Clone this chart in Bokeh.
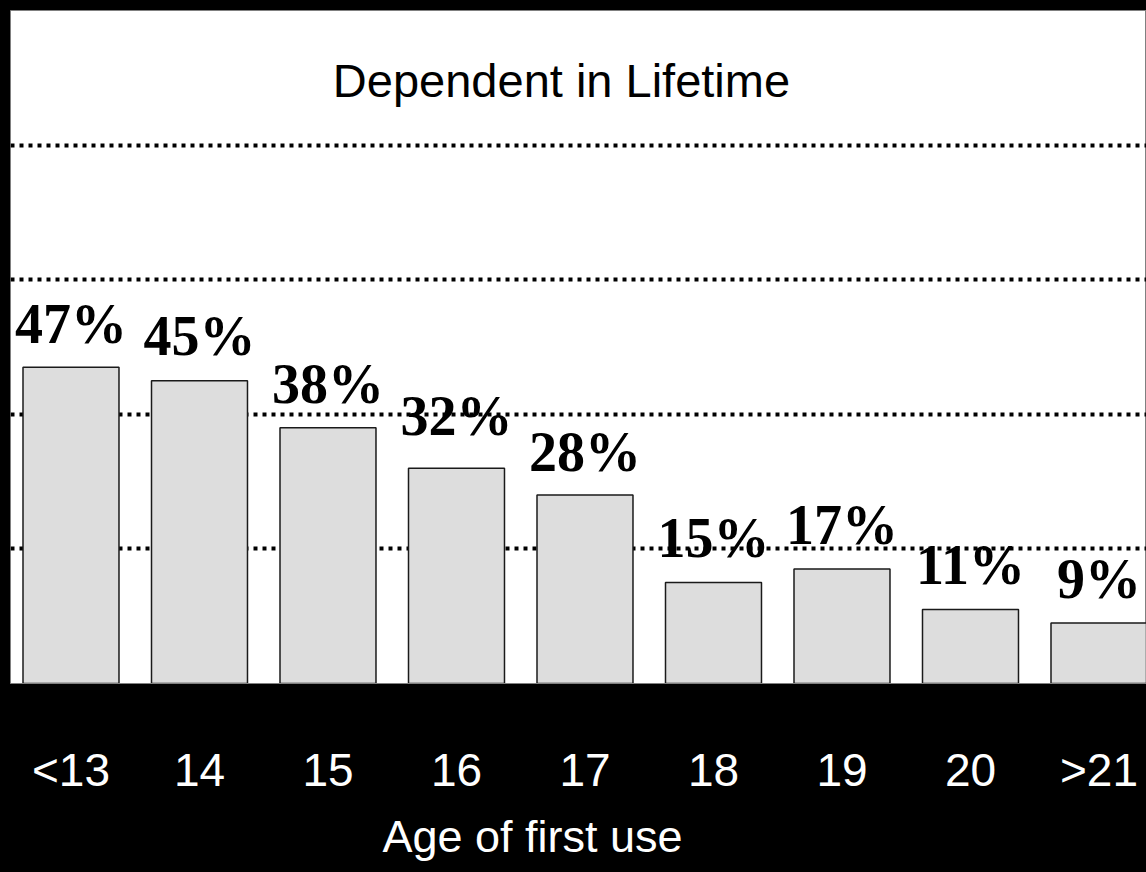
from bokeh.plotting import figure
from bokeh.models import FixedTicker, Range1d, Label, Title, ColumnDataSource, GlobalInlineStyleSheet
from bokeh.core.properties import value
from bokeh.embed import file_html
from bokeh.resources import INLINE

# ---- data ----
categories = ["<13", "14", "15", "16", "17", "18", "19", "20", ">21"]
percent = [47, 45, 38, 32, 28, 15, 17, 11, 9]
bar_labels = [f"{v}%" for v in percent]
label_gap = [24, 26, 25, 33, 24, 26, 25, 25, 25]

BASELINE_FIX = 19  # renderer places alphabetic text lower than requested

xs = list(range(len(categories)))
src = ColumnDataSource(dict(x=xs, top=percent, label=bar_labels,
                            gap=[-(g + BASELINE_FIX) for g in label_gap]))

p = figure(width=1146, height=872,
           x_range=Range1d(-0.4708, 8.3697), y_range=Range1d(0, 100),
           output_backend="svg", toolbar_location=None, y_axis_location=None,
           min_border_left=10, min_border_right=0, min_border_top=10,
           min_border_bottom=189)
p.stylesheets = [GlobalInlineStyleSheet(css="body{background:#000;}")]
p.background_fill_color = "white"
p.border_fill_color = "black"
p.outline_line_color = "#808080"
p.outline_line_width = 1

# grid
p.xgrid.visible = False
p.ygrid.ticker = FixedTicker(ticks=[20, 40, 60, 80, 100])
p.ygrid.grid_line_color = "black"
p.ygrid.grid_line_width = 4
p.ygrid.grid_line_dash = "4 5"

# bars
p.vbar(x="x", top="top", bottom=0, width=0.747, source=src,
       fill_color="#dddddd", line_color="#1a1a1a", line_width=1.5)

# value labels
p.text(x="x", y="top", text="label", y_offset="gap", source=src,
       text_align="center", text_baseline="alphabetic",
       text_font=value("Liberation Serif"), text_font_style="bold",
       text_font_size="56px", text_color="black")

# x axis
p.xaxis.ticker = FixedTicker(ticks=xs)
p.xaxis.major_label_overrides = {i: c for i, c in zip(xs, categories)}
p.xaxis.major_label_text_font = "Liberation Sans"
p.xaxis.major_label_text_font_size = "46px"
p.xaxis.major_label_text_color = "white"
p.xaxis.major_label_standoff = 60
p.xaxis.major_tick_in = 0
p.xaxis.major_tick_out = 0
p.xaxis.minor_tick_line_color = None
p.xaxis.axis_line_color = "#808080"

# chart title inside the plot area
p.add_layout(Label(x=3.817, y=89.6, text="Dependent in Lifetime",
                   text_align="center", text_baseline="alphabetic",
                   text_font="Liberation Sans", text_font_size="47px",
                   text_color="black"))

# axis title below the tick labels
p.add_layout(Title(text="Age of first use", align="left", offset=372,
                   text_font="Liberation Sans", text_font_size="45px",
                   text_font_style="normal", text_color="white",
                   vertical_align="bottom", standoff=21), "below")

open("out.html", "w").write(file_html(p, INLINE))
